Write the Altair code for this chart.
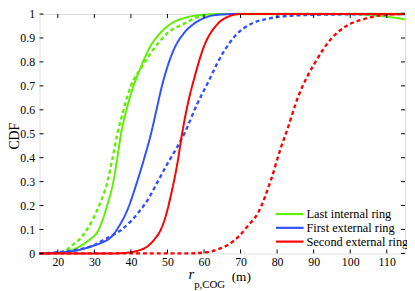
import altair as alt
import pandas as pd

# ---------------- data ----------------
series_names = ["Last internal ring", "First external ring", "Second external ring"]
series_colors = ["#5EF000", "#3050FF", "#FF0000"]

green_solid_x = [15, 20, 22, 24, 26.6, 28.5, 31.2, 33.5, 35.2, 36.3, 37.3, 38.8, 40.5, 42.5, 45.5, 48, 51, 55, 60, 65, 80, 100, 105, 110, 115]
green_solid_y = [0, 0.002, 0.006, 0.015, 0.035, 0.055, 0.1, 0.2, 0.3, 0.4, 0.5, 0.6, 0.69, 0.77, 0.87, 0.92, 0.96, 0.985, 0.997, 1.0, 1.0, 1.0, 0.996, 0.989, 0.978]

green_dash_x = [15, 19.5, 22, 24, 26, 28, 31.3, 33.6, 35, 36.3, 38, 40, 43, 46.8, 50, 54.6, 58, 63, 70, 115]
green_dash_y = [0, 0.002, 0.012, 0.035, 0.06, 0.1, 0.2, 0.3, 0.4, 0.5, 0.6, 0.7, 0.78, 0.865, 0.92, 0.96, 0.985, 0.998, 1.0, 1.0]

blue_solid_x = [15, 20, 25, 29.3, 32, 34.7, 36.6, 39, 41.5, 43.5, 45.5, 47, 48.5, 50, 52, 54.5, 57.3, 60, 62.7, 68, 115]
blue_solid_y = [0, 0.003, 0.012, 0.03, 0.045, 0.07, 0.11, 0.18, 0.29, 0.39, 0.5, 0.6, 0.7, 0.78, 0.86, 0.92, 0.96, 0.983, 0.995, 1.0, 1.0]

blue_dash_x = [15, 20, 25, 30, 33, 35.5, 37.5, 40, 42, 44.6, 47, 50, 52.5, 54.6, 58, 61.6, 63.5, 65.7, 68.9, 72.4, 78, 85, 95, 115]
blue_dash_y = [0, 0.005, 0.015, 0.035, 0.06, 0.08, 0.1, 0.135, 0.17, 0.224, 0.29, 0.375, 0.44, 0.5, 0.62, 0.73, 0.79, 0.85, 0.915, 0.955, 0.982, 0.994, 0.998, 1.0]

red_solid_x = [15, 35, 40, 42, 44.6, 46.5, 48.2, 49.6, 50.9, 52.7, 54, 55.5, 57.3, 60, 63.5, 66, 70, 115]
red_solid_y = [0, 0.0, 0.005, 0.012, 0.03, 0.06, 0.1, 0.16, 0.24, 0.375, 0.5, 0.62, 0.73, 0.865, 0.955, 0.985, 1.0, 1.0]

red_dash_x = [15, 55, 60.8, 64.3, 66.5, 69.7, 72, 74.8, 78.3, 81, 82.4, 85.9, 90.5, 95, 98.6, 104, 110, 115]
red_dash_y = [0, 0, 0.005, 0.02, 0.035, 0.074, 0.115, 0.17, 0.306, 0.44, 0.5, 0.66, 0.8, 0.9, 0.947, 0.98, 0.997, 1.0]

x_ticks = [20, 30, 40, 50, 60, 70, 80, 90, 100, 110]
y_ticks = [0, 0.1, 0.2, 0.3, 0.4, 0.5, 0.6, 0.7, 0.8, 0.9, 1]

# ---------------- build table ----------------
curves = [
    (series_names[0], "solid", green_solid_x, green_solid_y),
    (series_names[0], "dashed", green_dash_x, green_dash_y),
    (series_names[1], "solid", blue_solid_x, blue_solid_y),
    (series_names[1], "dashed", blue_dash_x, blue_dash_y),
    (series_names[2], "solid", red_solid_x, red_solid_y),
    (series_names[2], "dashed", red_dash_x, red_dash_y),
]
rows = []
for order, (name, style, xs, ys) in enumerate(curves):
    for i, (a, b) in enumerate(zip(xs, ys)):
        rows.append({"series": name, "style": style, "key": f"{order}", "r": a, "cdf": b, "i": i})
df = pd.DataFrame(rows)

W, H = 371, 243
FONT = "Liberation Serif"

x_scale = alt.Scale(domain=[15, 115], nice=False, zero=False)
y_scale = alt.Scale(domain=[0, 1], nice=False)
x_axis = alt.Axis(values=x_ticks, title=None, ticks=False, domain=False, grid=False,
                  labelFont=FONT, labelFontSize=12, labelColor="black", labelPadding=3)
y_axis = alt.Axis(values=y_ticks, title=None, ticks=False, domain=False, grid=False, format=".1~f",
                  labelFont=FONT, labelFontSize=12, labelColor="black", labelPadding=5)

lines = alt.Chart(df).mark_line(interpolate="monotone").encode(
    x=alt.X("r:Q", scale=x_scale, axis=x_axis),
    y=alt.Y("cdf:Q", scale=y_scale, axis=y_axis),
    color=alt.Color("series:N", scale=alt.Scale(domain=series_names, range=series_colors), legend=None),
    strokeDash=alt.StrokeDash("style:N", scale=alt.Scale(domain=["solid", "dashed"], range=[[1, 0], [4, 3]]), legend=None),
    strokeWidth=alt.StrokeWidth("style:N", scale=alt.Scale(domain=["solid", "dashed"], range=[2, 2.4]), legend=None),
    detail="key:N",
    order="i:Q",
)

xt = pd.DataFrame({"r": x_ticks})
yt = pd.DataFrame({"cdf": y_ticks})
tick_kw = dict(color="black", strokeWidth=1)
ticks_bottom = alt.Chart(xt).mark_rule(**tick_kw).encode(
    x=alt.X("r:Q", scale=x_scale, axis=x_axis), y=alt.value(H), y2=alt.value(H - 4))
ticks_top = alt.Chart(xt).mark_rule(**tick_kw).encode(
    x=alt.X("r:Q", scale=x_scale, axis=x_axis), y=alt.value(0), y2=alt.value(4))
ticks_left = alt.Chart(yt).mark_rule(**tick_kw).encode(
    y=alt.Y("cdf:Q", scale=y_scale, axis=y_axis), x=alt.value(0), x2=alt.value(4))
ticks_right = alt.Chart(yt).mark_rule(**tick_kw).encode(
    y=alt.Y("cdf:Q", scale=y_scale, axis=y_axis), x=alt.value(W), x2=alt.value(W - 4))

one = pd.DataFrame({"a": [0]})

# legend (manual, inside bottom-right)
legend_layers = []
for k, (name, col) in enumerate(zip(series_names, series_colors)):
    yy = 203 + 14 * k
    legend_layers.append(alt.Chart(one).mark_rule(color=col, strokeWidth=2.2).encode(
        x=alt.value(240), x2=alt.value(268), y=alt.value(yy)))
    legend_layers.append(alt.Chart(one).mark_text(align="left", baseline="middle", font=FONT,
                                                   fontSize=12.5, color="black").encode(
        x=alt.value(271), y=alt.value(yy), text=alt.value(name)))

# axis titles
ytitle = alt.Chart(one).mark_text(angle=270, align="center", baseline="middle", font=FONT,
                                  fontSize=14, color="black").encode(
    x=alt.value(-25), y=alt.value(124), text=alt.value("CDF"))
xt_r = alt.Chart(one).mark_text(align="right", baseline="alphabetic", font=FONT, fontSize=15,
                                fontStyle="italic", color="black").encode(
    x=alt.value(157), y=alt.value(269), text=alt.value("r"))
xt_sub = alt.Chart(one).mark_text(align="left", baseline="alphabetic", font=FONT, fontSize=11,
                                  color="black").encode(
    x=alt.value(157), y=alt.value(278), text=alt.value("p,COG"))
xt_m = alt.Chart(one).mark_text(align="left", baseline="alphabetic", font=FONT, fontSize=13.5,
                                color="black").encode(
    x=alt.value(195), y=alt.value(271), text=alt.value("(m)"))

chart = alt.layer(
    lines, ticks_bottom, ticks_top, ticks_left, ticks_right,
    *legend_layers, ytitle, xt_r, xt_sub, xt_m
).properties(
    width=W, height=H,
    autosize=alt.AutoSizeParams(type="none"),
    padding={"left": 32, "top": 4, "right": 2, "bottom": 36},
).configure_view(stroke="black", strokeWidth=1).configure(background="white")

chart.save("out.html", embed_options={"renderer": "svg", "actions": False})
